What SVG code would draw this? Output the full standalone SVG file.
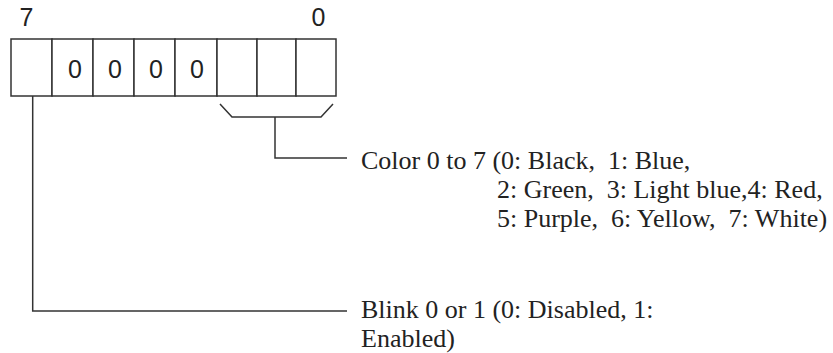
<svg xmlns="http://www.w3.org/2000/svg" width="833" height="353" viewBox="0 0 833 353">
<style>
.cell{fill:#fff;stroke:#333;stroke-width:1.5}
.bit{font-family:"Liberation Sans",Arial,sans-serif;font-size:25px;fill:#222}
.lbl{font-family:"Liberation Serif","Times New Roman",serif;font-size:26px;fill:#222;white-space:pre}
.con{fill:none;stroke:#333;stroke-width:1.5}
</style>
<rect width="833" height="353" fill="#fff"/>
<g id="register">
<rect class="cell" x="11" y="39" width="41" height="57"/>
<rect class="cell" x="52" y="39" width="41" height="57"/>
<rect class="cell" x="93" y="39" width="41" height="57"/>
<rect class="cell" x="134" y="39" width="41" height="57"/>
<rect class="cell" x="175" y="39" width="42" height="57"/>
<rect class="cell" x="217" y="39" width="40" height="57"/>
<rect class="cell" x="257" y="39" width="39" height="57"/>
<rect class="cell" x="296" y="39" width="40" height="57"/>
<text class="bit" x="26.5" y="26" text-anchor="middle">7</text>
<text class="bit" x="318.5" y="26" text-anchor="middle">0</text>
<text class="bit" x="75" y="77.5" text-anchor="middle">0</text>
<text class="bit" x="115" y="77.5" text-anchor="middle">0</text>
<text class="bit" x="156" y="77.5" text-anchor="middle">0</text>
<text class="bit" x="197" y="77.5" text-anchor="middle">0</text>
</g>
<g id="connectors">
<polyline class="con" points="220,104 232,117 321,117 333,104"/>
<polyline class="con" points="275,117 275,158 347,158"/>
<polyline class="con" points="32.7,96 32.7,311 347,311"/>
</g>
<g id="color-label">
<text class="lbl" x="361" y="169">Color 0 to 7 (0: Black,  1: Blue,</text>
<text class="lbl" x="497" y="198">2: Green,  3: Light blue,4: Red,</text>
<text class="lbl" x="497" y="227">5: Purple,  6: Yellow,  7: White)</text>
</g>
<g id="blink-label">
<text class="lbl" x="361" y="318">Blink 0 or 1 (0: Disabled, 1:</text>
<text class="lbl" x="361" y="347">Enabled)</text>
</g>
</svg>
